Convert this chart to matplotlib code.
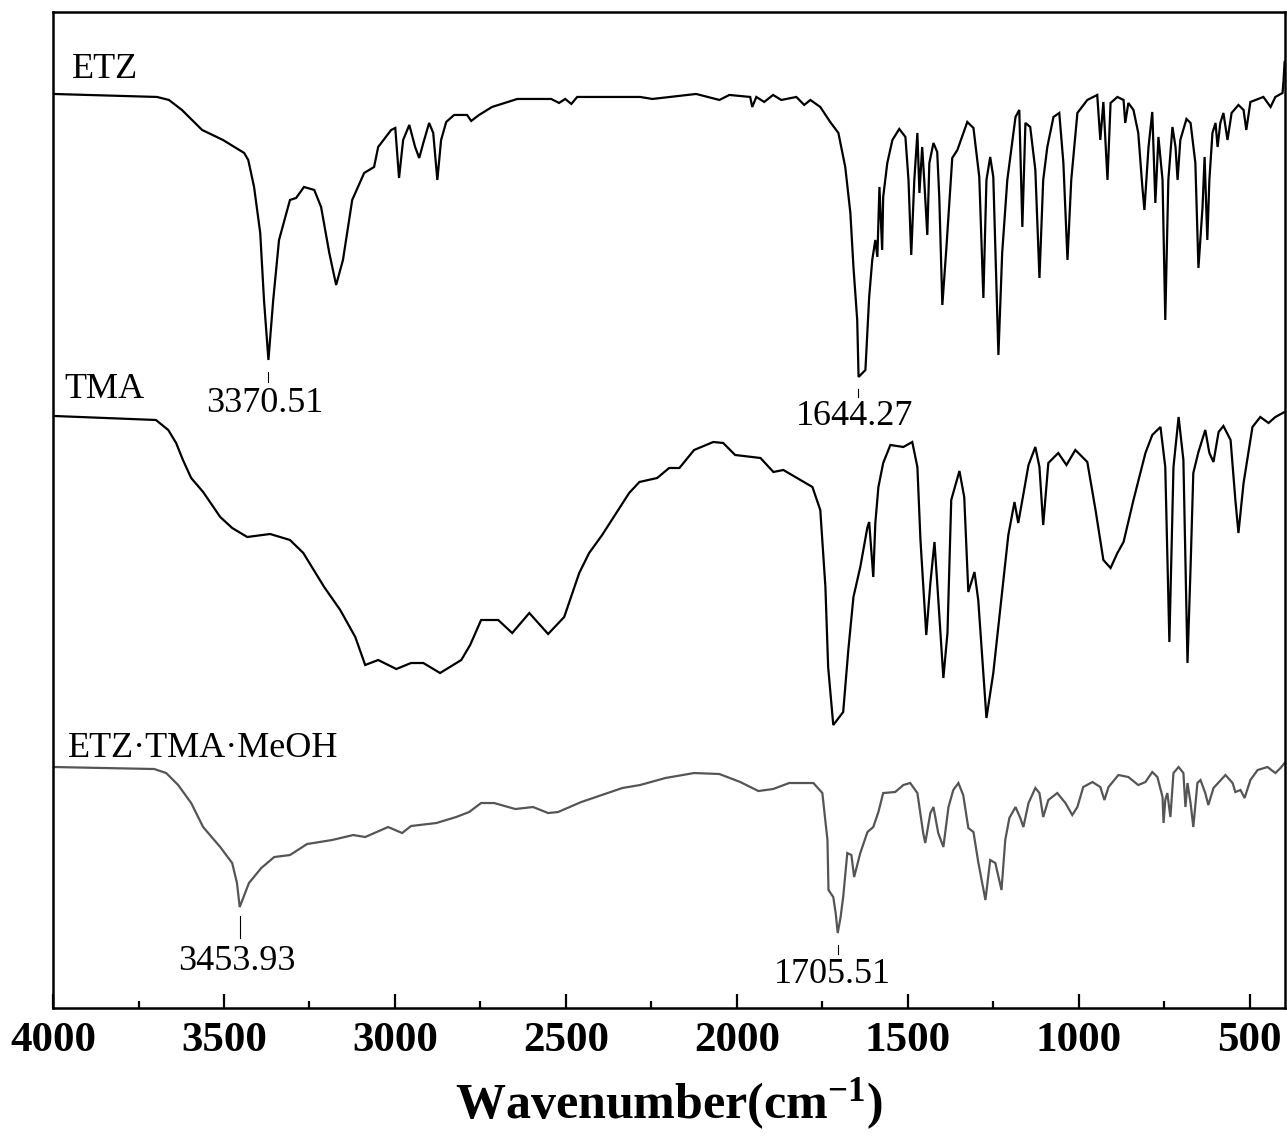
import matplotlib
matplotlib.use("Agg")
import matplotlib.pyplot as plt
from matplotlib.ticker import MultipleLocator

plt.rcParams['font.family'] = ['Liberation Serif', 'DejaVu Serif']
plt.rcParams['mathtext.fontset'] = 'custom'
plt.rcParams['mathtext.rm'] = 'Liberation Serif:bold'
plt.rcParams['mathtext.bf'] = 'Liberation Serif:bold'
plt.rcParams['mathtext.it'] = 'Liberation Serif:bold'

# ---------------- data (wavenumber cm-1, transmittance, arbitrary stacked units) ----------------
etz_wn = [4000, 3696, 3661, 3623, 3564, 3503, 3441, 3429, 3412, 3394, 3383, 3370, 3356, 3339, 3307,
          3289, 3266, 3236, 3216, 3192, 3172, 3152, 3125, 3090, 3061, 3049, 3011, 2999, 2988, 2976,
          2958, 2941, 2929, 2917, 2900, 2888, 2876, 2865, 2850, 2827, 2789, 2777, 2754, 2716, 2642,
          2543, 2520, 2502, 2484, 2467, 2283, 2247, 2119, 2051, 2022, 1961, 1955, 1943, 1920, 1894,
          1870, 1826, 1803, 1785, 1756, 1727, 1703, 1683, 1668, 1659, 1648, 1644, 1624, 1613, 1604,
          1595, 1589, 1583, 1575, 1572, 1560, 1545, 1525, 1507, 1498, 1490, 1481, 1472, 1466, 1458,
          1452, 1443, 1437, 1425, 1414, 1408, 1399, 1387, 1370, 1355, 1326, 1308, 1291, 1279, 1270,
          1259, 1250, 1235, 1224, 1209, 1185, 1174, 1165, 1156, 1142, 1127, 1115, 1104, 1092, 1074,
          1057, 1045, 1033, 1022, 1004, 975, 946, 937, 928, 916, 907, 887, 869, 864, 855,
          840, 826, 814, 808, 796, 785, 776, 767, 755, 747, 738, 726, 717, 711, 703,
          685, 673, 659, 650, 638, 632, 624, 618, 609, 600, 594, 586, 577, 565, 553,
          533, 518, 510, 498, 460, 439, 425, 404, 401, 398]
etz_t = [91.4, 91.1, 90.8, 89.8, 87.8, 86.8, 85.5, 84.8, 82.1, 77.5, 70.8, 64.8, 70.8, 76.8, 80.8,
         81.0, 82.1, 81.8, 80.1, 75.5, 72.3, 74.8, 80.8, 83.5, 84.1, 86.1, 87.8, 88.0, 83.0, 86.8,
         88.3, 86.1, 85.0, 86.5, 88.5, 87.5, 82.8, 86.8, 88.6, 89.3, 89.3, 88.7, 89.3, 90.1, 90.9,
         90.9, 90.5, 90.9, 90.4, 91.1, 91.1, 90.9, 91.4, 90.8, 91.3, 91.1, 90.1, 91.1, 90.6, 91.3,
         90.8, 91.1, 90.3, 90.8, 90.1, 88.6, 87.5, 84.1, 79.5, 74.1, 68.8, 63.1, 63.8, 71.1, 74.8,
         76.8, 75.1, 82.1, 75.8, 81.1, 84.5, 86.8, 87.9, 87.1, 82.8, 75.3, 82.8, 87.5, 81.5, 86.1,
         82.8, 77.3, 84.5, 86.5, 85.6, 81.1, 70.3, 76.1, 85.0, 85.8, 88.6, 88.0, 83.1, 71.0, 82.8,
         85.1, 83.1, 65.3, 75.5, 82.8, 89.1, 89.8, 78.1, 88.5, 88.1, 83.8, 73.0, 82.8, 86.1, 89.1,
         89.5, 84.5, 74.8, 82.8, 89.5, 90.8, 91.3, 86.8, 90.6, 82.8, 90.5, 91.1, 90.8, 88.5, 90.5,
         89.8, 87.5, 82.1, 79.8, 86.1, 89.6, 80.5, 87.1, 82.8, 68.8, 82.8, 88.1, 86.1, 82.8, 86.8,
         88.9, 88.5, 84.5, 74.0, 80.1, 85.1, 76.8, 82.8, 87.5, 88.5, 86.1, 88.5, 89.5, 86.8, 89.5,
         90.3, 89.8, 87.8, 90.6, 91.1, 90.1, 91.1, 91.5, 92.8, 94.6]

tma_wn = [3997, 3699, 3663, 3640, 3620, 3596, 3561, 3511, 3476, 3432, 3365, 3307, 3268, 3207, 3160,
          3116, 3087, 3049, 2996, 2953, 2917, 2868, 2806, 2780, 2748, 2698, 2657, 2607, 2552, 2505,
          2461, 2432, 2394, 2347, 2315, 2285, 2233, 2198, 2168, 2125, 2069, 2040, 2005, 1931, 1893,
          1864, 1814, 1779,
          1756, 1741, 1733, 1718, 1689, 1674, 1659, 1639, 1618, 1613, 1601, 1595, 1586, 1572, 1551,
          1513, 1487, 1472, 1463, 1446, 1434, 1422, 1414, 1396, 1384, 1373, 1349, 1335, 1323, 1305,
          1294, 1270, 1250, 1229, 1206, 1188, 1177, 1165, 1147, 1127, 1115, 1104, 1089, 1060, 1036,
          1010, 975, 951, 928, 907, 887, 869, 840, 805, 785, 761, 747, 735, 723, 708,
          694, 682, 673, 665, 650, 630, 618, 606, 591, 577, 556, 542, 533, 518, 492,
          469, 445, 425, 398]
tma_t = [59.2, 58.8, 57.8, 56.5, 54.8, 53.0, 51.6, 49.1, 48.0, 47.1, 47.4, 46.8, 45.5, 42.1, 39.8,
         37.1, 34.3, 34.8, 33.9, 34.5, 34.5, 33.5, 34.8, 36.3, 38.8, 38.8, 37.5, 39.5, 37.4, 39.1,
         43.5, 45.5, 47.3, 49.8, 51.5, 52.6, 53.0, 54.0, 54.0, 55.8, 56.6, 56.5, 55.3, 55.0, 53.6,
         53.8, 52.8, 52.1,
         49.8, 42.1, 34.1, 28.3, 29.6, 35.8, 41.1, 44.1, 48.1, 48.6, 43.1, 48.5, 52.1, 54.5, 56.3,
         56.1, 56.6, 54.1, 46.8, 37.3, 42.5, 46.6, 42.5, 33.0, 37.5, 50.8, 53.7, 51.1, 41.6, 43.6,
         40.8, 29.0, 33.5, 40.1, 47.3, 50.6, 48.5, 50.8, 54.3, 56.1, 54.1, 48.3, 54.5, 55.5, 54.3,
         55.8, 54.6, 49.8, 44.8, 44.0, 45.5, 46.6, 50.8, 55.5, 57.3, 58.1, 54.1, 36.6, 54.1, 59.1,
         54.8, 34.5, 44.1, 53.5, 55.6, 57.8, 55.5, 54.6, 57.6, 58.2, 56.8, 50.8, 47.5, 52.5, 58.1,
         59.1, 58.5, 59.1, 59.6]

mix_wn = [3997, 3704, 3669, 3634, 3596, 3561, 3511, 3476, 3462, 3454, 3427, 3391, 3353, 3307, 3257,
          3184, 3122, 3087, 3020, 2979, 2953, 2879, 2821, 2783, 2748, 2710, 2648, 2596, 2552, 2523,
          2455, 2335, 2283, 2209, 2125, 2051, 1990, 1937, 1894, 1847, 1814, 1776, 1750, 1735, 1732,
          1718, 1711, 1705, 1697, 1689, 1677, 1665, 1657, 1639, 1618, 1601, 1586, 1572, 1537, 1513,
          1493, 1472, 1455, 1449, 1434, 1425, 1411, 1396, 1381, 1367, 1352, 1338, 1323, 1308, 1294,
          1273, 1259, 1244, 1226, 1215, 1203, 1185, 1171, 1162, 1147, 1127, 1115, 1104, 1089, 1063,
          1039, 1019, 1004, 987, 960, 937, 925, 913, 884, 855, 826, 805, 785, 770, 755,
          752, 747, 741, 732, 723, 708, 694, 688, 682, 673, 665, 653, 644, 630, 621,
          606, 571, 550, 542, 527, 515, 498, 477, 448, 425, 410, 398]
mix_t = [24.1, 23.9, 23.5, 22.3, 20.5, 18.1, 16.1, 14.5, 12.5, 10.1, 12.5, 14.0, 15.1, 15.3, 16.4,
         16.8, 17.3, 17.1, 18.1, 17.5, 18.2, 18.5, 19.1, 19.6, 20.5, 20.5, 19.9, 20.1, 19.5, 19.6,
         20.6, 22.0, 22.3, 23.0, 23.5, 23.4, 22.6, 21.7, 21.9, 22.5, 22.5, 22.5, 21.5, 16.8, 11.8,
         11.1, 9.5, 7.5, 9.0, 11.1, 15.5, 15.3, 13.1, 15.5, 17.6, 18.1, 19.6, 21.5, 21.6, 22.3,
         22.5, 21.5, 17.5, 16.5, 19.5, 20.1, 17.5, 16.1, 20.1, 21.8, 22.5, 21.3, 18.0, 17.6, 14.6,
         10.8, 14.8, 14.5, 11.8, 16.8, 19.0, 20.1, 19.0, 18.1, 20.5, 22.0, 21.5, 19.1, 20.8, 21.5,
         20.5, 19.3, 20.1, 22.1, 22.6, 22.1, 20.8, 22.1, 23.3, 23.1, 22.3, 22.6, 23.6, 23.1, 21.1,
         18.5, 20.8, 21.5, 19.1, 23.5, 24.1, 23.5, 20.1, 22.5, 20.5, 18.1, 22.5, 22.8, 21.5, 20.3,
         22.0, 23.3, 22.5, 21.6, 21.8, 21.0, 22.8, 23.8, 24.1, 23.5, 24.0, 24.5]

series_names = ["ETZ", "TMA", "ETZ\u00b7TMA\u00b7MeOH"]
series_colors = ["#000000", "#000000", "#555555"]
label_pos = [(3944, 93.8), (3968, 61.8), (3956, 26.0)]

peak_labels = ["3370.51", "1644.27", "3453.93", "1705.51"]
peak_wn = [3370.51, 1644.27, 3453.93, 1705.51]
peak_line = [(63.6, 62.6), (61.9, 61.1), (9.2, 7.0), (6.3, 5.4)]
peak_text_y = [60.4, 59.1, 4.7, 3.4]
peak_text_x = [3380, 1655, 3463, 1720]

xticks = [4000, 3500, 3000, 2500, 2000, 1500, 1000, 500]

# ---------------- figure ----------------
fig = plt.figure(figsize=(12.87, 11.38), dpi=100)
ax = fig.add_axes([0.0412, 0.1142, 0.9572, 0.8753])

for wn, t, c in zip([etz_wn, tma_wn, mix_wn], [etz_t, tma_t, mix_t], series_colors):
    ax.plot(wn, t, color=c, lw=1.6, solid_joinstyle='miter')

for name, (lx, ly) in zip(series_names, label_pos):
    ax.text(lx, ly, name, fontsize=26, ha='left', va='center', color='black')

for lab, pw, (t1, t2), ty, tx in zip(peak_labels, peak_wn, peak_line, peak_text_y, peak_text_x):
    ax.plot([pw, pw], [t1, t2], color='black', lw=0.8)
    ax.text(tx, ty, lab, fontsize=26, ha='center', va='center', color='black')

ax.set_xlim(4000, 397)
ax.set_ylim(0, 99.6)
ax.set_xticks(xticks)
ax.set_xticklabels([str(v) for v in xticks])
ax.xaxis.set_minor_locator(MultipleLocator(250))
ax.set_yticks([])
ax.tick_params(axis='x', which='major', direction='in', length=10, width=1.6, pad=10,
               labelsize=31, top=False)
ax.tick_params(axis='x', which='minor', direction='in', length=5, width=1.6, top=False)
for lab in ax.get_xticklabels():
    lab.set_fontweight('bold')
for sp in ax.spines.values():
    sp.set_linewidth(1.8)

ax.set_xlabel('Wavenumber(cm$^{\\mathrm{-1}}$)', fontsize=36, fontweight='bold', labelpad=12)

fig.savefig("out.png", dpi=100)
